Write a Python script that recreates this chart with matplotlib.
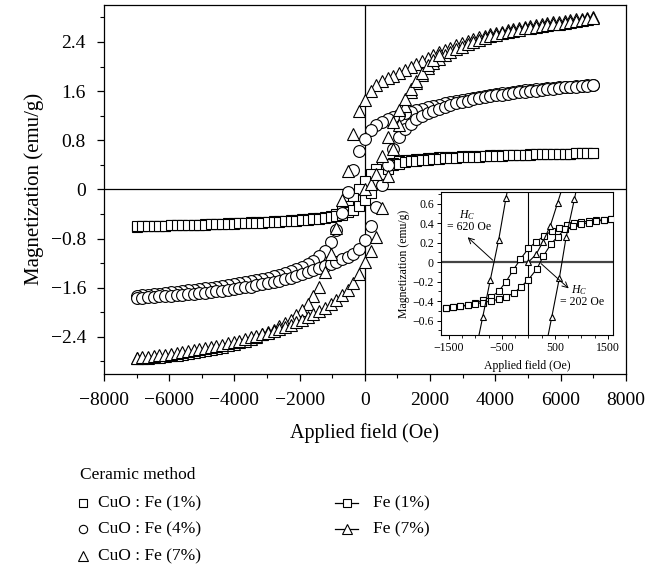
import numpy as np
import matplotlib
matplotlib.use("Agg")
import matplotlib.pyplot as plt
from matplotlib.lines import Line2D
from matplotlib.ticker import MultipleLocator, FixedLocator

plt.rcParams['font.family'] = ['Liberation Serif', 'DejaVu Serif']
plt.rcParams['mathtext.fontset'] = 'custom'
plt.rcParams['mathtext.rm'] = 'Liberation Serif'
plt.rcParams['mathtext.it'] = 'Liberation Serif:italic'

# VSM sweep, 175 Oe steps
field_down = np.arange(7000, -7001, -175)   # +7 kOe -> -7 kOe
field_up = field_down[::-1]                 # -7 kOe -> +7 kOe

# CuO:Fe (1%)
sq_down = [0.590, 0.589, 0.587, 0.585, 0.583, 0.581, 0.579, 0.577, 0.575, 0.573,
           0.571, 0.569, 0.567, 0.565, 0.563, 0.561, 0.558, 0.556, 0.553, 0.550,
           0.547, 0.544, 0.541, 0.537, 0.533, 0.529, 0.525, 0.520, 0.515, 0.509,
           0.502, 0.494, 0.484, 0.472, 0.457, 0.438, 0.412, 0.375, 0.325, 0.250,
           0.137,
           0.010, -0.140, -0.270, -0.355, -0.395, -0.425, -0.445, -0.460, -0.472, -0.481,
           -0.489, -0.496, -0.502, -0.508, -0.513, -0.518, -0.523, -0.528, -0.533, -0.537,
           -0.541, -0.545, -0.549, -0.553, -0.557, -0.561, -0.565, -0.568, -0.571, -0.574,
           -0.577, -0.580, -0.583, -0.586, -0.589, -0.592, -0.595, -0.598, -0.601, -0.604]
sq_up = [-0.600, -0.598, -0.596, -0.594, -0.592, -0.590, -0.587, -0.585, -0.582, -0.580,
         -0.577, -0.574, -0.572, -0.569, -0.566, -0.563, -0.560, -0.557, -0.554, -0.550,
         -0.547, -0.543, -0.539, -0.535, -0.531, -0.526, -0.521, -0.516, -0.510, -0.504,
         -0.497, -0.489, -0.480, -0.468, -0.453, -0.433, -0.410, -0.375, -0.335, -0.270,
         -0.180,
         -0.060, 0.110, 0.245, 0.340, 0.390, 0.420, 0.440, 0.455, 0.467, 0.477,
         0.486, 0.494, 0.500, 0.506, 0.512, 0.517, 0.522, 0.527, 0.531, 0.535,
         0.539, 0.543, 0.547, 0.551, 0.554, 0.557, 0.560, 0.563, 0.566, 0.569,
         0.571, 0.574, 0.576, 0.579, 0.581, 0.583, 0.585, 0.587, 0.589, 0.590]

# CuO:Fe (4%)
ci_down = [1.700, 1.694, 1.688, 1.682, 1.675, 1.669, 1.663, 1.655, 1.647, 1.639,
           1.631, 1.623, 1.613, 1.601, 1.588, 1.575, 1.563, 1.551, 1.537, 1.521,
           1.505, 1.489, 1.474, 1.457, 1.440, 1.422, 1.403, 1.381, 1.358, 1.335,
           1.312, 1.290, 1.266, 1.242, 1.218, 1.185, 1.150, 1.102, 1.050, 0.960,
           0.820,
           0.620, 0.320, -0.040, -0.380, -0.660, -0.860, -1.000, -1.090, -1.160, -1.210,
           -1.260, -1.295, -1.330, -1.360, -1.385, -1.410, -1.435, -1.455, -1.475, -1.490,
           -1.505, -1.520, -1.540, -1.555, -1.570, -1.585, -1.600, -1.610, -1.625, -1.635,
           -1.645, -1.655, -1.665, -1.675, -1.685, -1.695, -1.705, -1.715, -1.720, -1.730]
ci_up = [-1.770, -1.763, -1.756, -1.749, -1.742, -1.735, -1.728, -1.721, -1.714, -1.706,
         -1.698, -1.692, -1.684, -1.673, -1.661, -1.649, -1.636, -1.622, -1.610, -1.596,
         -1.580, -1.563, -1.545, -1.527, -1.508, -1.486, -1.462, -1.435, -1.408, -1.380,
         -1.350, -1.316, -1.280, -1.245, -1.210, -1.175, -1.140, -1.100, -1.050, -0.970,
         -0.820,
         -0.600, -0.280, 0.080, 0.400, 0.660, 0.850, 0.980, 1.070, 1.140, 1.190,
         1.240, 1.280, 1.315, 1.345, 1.375, 1.400, 1.425, 1.445, 1.465, 1.485,
         1.500, 1.515, 1.530, 1.545, 1.560, 1.570, 1.580, 1.590, 1.600, 1.610,
         1.620, 1.630, 1.640, 1.650, 1.660, 1.665, 1.675, 1.680, 1.690, 1.700]

# CuO:Fe (7%)
tr_down = [2.800, 2.790, 2.780, 2.770, 2.755, 2.745, 2.730, 2.720, 2.705, 2.690,
           2.675, 2.660, 2.645, 2.630, 2.610, 2.590, 2.570, 2.550, 2.525, 2.500,
           2.475, 2.445, 2.415, 2.385, 2.350, 2.310, 2.270, 2.230, 2.190, 2.140,
           2.090, 2.040, 1.990, 1.940, 1.890, 1.850, 1.810, 1.760, 1.700, 1.600,
           1.460,
           1.270, 0.900, 0.300, -0.170, -0.620, -1.050, -1.350, -1.580, -1.740, -1.870,
           -1.970, -2.050, -2.120, -2.180, -2.230, -2.280, -2.320, -2.360, -2.400, -2.430,
           -2.460, -2.490, -2.515, -2.540, -2.560, -2.580, -2.600, -2.620, -2.635, -2.650,
           -2.665, -2.680, -2.690, -2.700, -2.710, -2.720, -2.730, -2.740, -2.745, -2.750]
tr_up = [-2.740, -2.730, -2.720, -2.710, -2.700, -2.690, -2.675, -2.660, -2.645, -2.630,
         -2.615, -2.600, -2.585, -2.565, -2.545, -2.525, -2.505, -2.485, -2.460, -2.435,
         -2.410, -2.385, -2.360, -2.330, -2.300, -2.270, -2.235, -2.200, -2.160, -2.120,
         -2.075, -2.030, -1.980, -1.930, -1.870, -1.800, -1.720, -1.630, -1.520, -1.380,
         -1.180,
         -1.000, -0.780, -0.300, 0.220, 0.650, 1.050, 1.350, 1.580, 1.740, 1.870,
         1.970, 2.050, 2.120, 2.180, 2.230, 2.280, 2.320, 2.360, 2.400, 2.430,
         2.460, 2.490, 2.515, 2.540, 2.560, 2.580, 2.600, 2.620, 2.635, 2.650,
         2.665, 2.680, 2.690, 2.700, 2.715, 2.730, 2.745, 2.760, 2.775, 2.790]
tr_virgin_field = [0, 175, 350, 525, 700, 875, 1050, 1225, 1400, 1575, 1750, 1925, 2100, 2275]
tr_virgin = [0.00, 0.09, 0.25, 0.55, 0.85, 1.10, 1.30, 1.47, 1.63, 1.77, 1.90, 2.02, 2.11, 2.18]

# inset: low-field detail
fe1_down_field = [1560, 1420, 1280, 1140, 1000, 860, 720, 580, 440, 300, 150, 0,
                  -150, -290, -420, -560, -700, -860, -1000, -1140, -1280, -1420, -1560]
fe1_down = [0.44, 0.435, 0.43, 0.42, 0.41, 0.40, 0.38, 0.35, 0.32, 0.27, 0.21, 0.14,
            0.03, -0.085, -0.20, -0.30, -0.36, -0.39, -0.42, -0.44, -0.45, -0.46, -0.47]
fe1_up_field = [-1560, -1420, -1280, -1140, -1000, -860, -700, -550, -420, -280, -140, 0,
                160, 280, 430, 550, 690, 850, 1000, 1140, 1280, 1420, 1560]
fe1_up = [-0.47, -0.465, -0.455, -0.445, -0.43, -0.415, -0.40, -0.38, -0.355, -0.32, -0.255, -0.18,
          -0.07, 0.06, 0.19, 0.26, 0.34, 0.37, 0.39, 0.405, 0.42, 0.43, 0.44]
fe7_down_field = [-300, -421, -560, -717, -862, -1000]
fe7_down = [1.00, 0.663, 0.228, -0.18, -0.567, -0.93]
fe7_up_field = [300, 440, 585, 711, 868, 1000]
fe7_up = [-0.95, -0.567, -0.16, 0.255, 0.647, 1.00]
fe7_virgin_field = [0, 145, 270, 415, 553, 690]
fe7_virgin = [0.0, 0.079, 0.204, 0.374, 0.612, 0.85]


def signed_fmt(v, pos):
    if abs(v) < 1e-9:
        return '0'
    return f'{v:.1f}'.replace('-', '\u2212')


fig = plt.figure(figsize=(6.58, 5.68), dpi=100)
ax = fig.add_axes([0.158, 0.342, 0.793, 0.649])

ax.axhline(0, color='black', lw=0.9, zorder=1)
ax.axvline(0, color='black', lw=0.9, zorder=1)

mk = dict(ls='none', mfc='white', mec='black', mew=0.8, zorder=3)
ax.plot(field_down, sq_down, marker='s', ms=7, **mk)
ax.plot(field_up, sq_up, marker='s', ms=7, **mk)
ax.plot(field_down, ci_down, marker='o', ms=8.5, **mk)
ax.plot(field_up, ci_up, marker='o', ms=8.5, **mk)
ax.plot(field_down, tr_down, marker='^', ms=9, **mk)
ax.plot(field_up, tr_up, marker='^', ms=9, **mk)
ax.plot(tr_virgin_field, tr_virgin, marker='^', ms=9, **mk)

ax.set_xlim(-8000, 8000)
ax.set_ylim(-3.0, 3.0)
ax.xaxis.set_major_locator(MultipleLocator(2000))
ax.xaxis.set_minor_locator(MultipleLocator(1000))
ax.yaxis.set_major_locator(FixedLocator([-2.4, -1.6, -0.8, 0, 0.8, 1.6, 2.4]))
ax.yaxis.set_minor_locator(MultipleLocator(0.4))
ax.yaxis.set_major_formatter(plt.FuncFormatter(signed_fmt))
ax.tick_params(which='major', direction='out', length=5, width=0.9, labelsize=14)
ax.tick_params(which='minor', direction='out', length=3, width=0.8)
ax.tick_params(axis='x', which='major', pad=8)
ax.tick_params(axis='y', which='major', pad=8)
for s in ax.spines.values():
    s.set_linewidth(0.9)
ax.set_xlabel('Applied field (Oe)', fontsize=14.5, labelpad=10)
ax.set_ylabel('Magnetization (emu/g)', fontsize=15, labelpad=5)

# inset
axi = fig.add_axes([0.670, 0.410, 0.262, 0.252])
axi.axhline(0, color='#444444', lw=1.6, zorder=1)
axi.axvline(0, color='black', lw=0.8, zorder=1)
ln = dict(color='black', lw=0.8, mfc='white', mec='black', mew=0.8, zorder=3)
axi.plot(fe1_down_field, fe1_down, marker='s', ms=4.2, **ln)
axi.plot(fe1_up_field, fe1_up, marker='s', ms=4.2, **ln)
axi.plot(fe7_down_field, fe7_down, marker='^', ms=5, **ln)
axi.plot(fe7_up_field, fe7_up, marker='^', ms=5, **ln)
axi.plot(fe7_virgin_field, fe7_virgin, marker='^', ms=5, **ln)
axi.set_xlim(-1650, 1600)
axi.set_ylim(-0.75, 0.72)
axi.xaxis.set_major_locator(FixedLocator([-1500, -500, 500, 1500]))
axi.xaxis.set_minor_locator(MultipleLocator(250))
axi.yaxis.set_major_locator(MultipleLocator(0.2))
axi.yaxis.set_minor_locator(MultipleLocator(0.1))
axi.yaxis.set_major_formatter(plt.FuncFormatter(signed_fmt))
axi.tick_params(which='major', direction='out', length=3, width=0.7, labelsize=8.5, pad=2)
axi.tick_params(which='minor', direction='out', length=2, width=0.6)
for s in axi.spines.values():
    s.set_linewidth(0.8)
axi.set_xlabel('Applied field (Oe)', fontsize=8.5, labelpad=4)
axi.set_ylabel('Magnetization (emu/g)', fontsize=8.5, labelpad=2)

arr = dict(arrowstyle='->', lw=0.7, color='black', shrinkA=0, shrinkB=0)
axi.annotate('', xy=(-1145, 0.255), xytext=(-673, 0.02), arrowprops=arr)
axi.text(-1150, 0.48, '$H_C$', fontsize=8.5, ha='center', va='center')
axi.text(-1113, 0.36, '= 620 Oe', fontsize=8.5, ha='center', va='center')
axi.annotate('', xy=(760, -0.27), xytext=(240, -0.016), arrowprops=arr)
axi.text(962, -0.29, '$H_C$', fontsize=8.5, ha='center', va='center')
axi.text(1020, -0.41, '= 202 Oe', fontsize=8.5, ha='center', va='center')

# key below the axes
leg_fs = 12.5
fig.text(0.1216, 0.1637, 'Ceramic method', fontsize=leg_fs, ha='left', va='center')
left_rows = [0.1144, 0.0687, 0.0211]
for (m, msz), y, lab in zip([('s', 5.5), ('o', 6), ('^', 6.5)], left_rows,
                            ['CuO : Fe (1%)', 'CuO : Fe (4%)', 'CuO : Fe (7%)']):
    fig.add_artist(Line2D([0.126], [y], transform=fig.transFigure, ls='none', marker=m,
                          ms=msz, mfc='white', mec='black', mew=0.8))
    fig.text(0.149, y, lab, fontsize=leg_fs, ha='left', va='center')
for (m, msz), y, lab in zip([('s', 5.5), ('^', 6.5)], left_rows[:2], ['Fe (1%)', 'Fe (7%)']):
    fig.add_artist(Line2D([0.509, 0.5266, 0.544], [y, y, y], transform=fig.transFigure,
                          color='black', lw=0.9, marker=m, markevery=[1], ms=msz,
                          mfc='white', mec='black', mew=0.8))
    fig.text(0.567, y, lab, fontsize=leg_fs, ha='left', va='center')

fig.savefig('out.png', dpi=100)
